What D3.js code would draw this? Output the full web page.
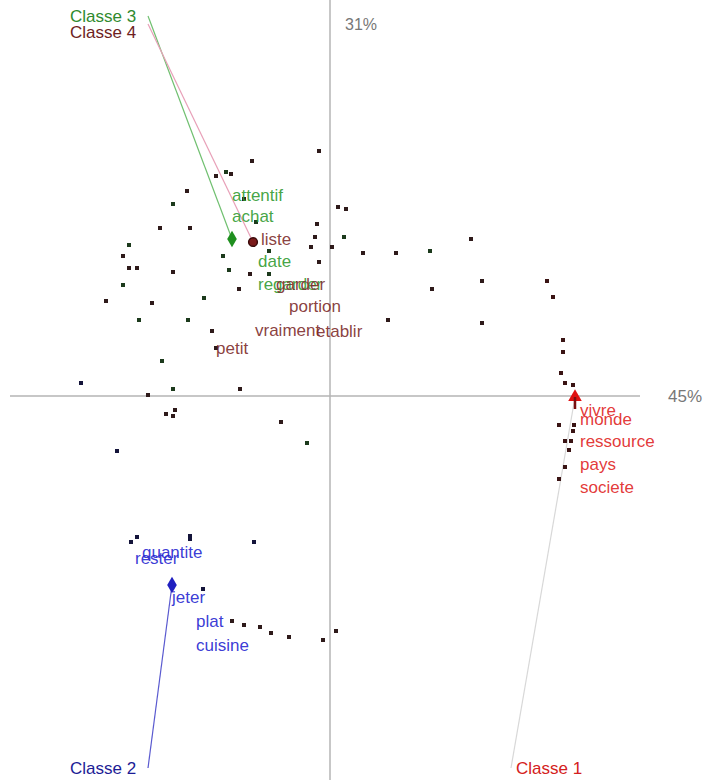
<!DOCTYPE html>
<html>
<head>
<meta charset="utf-8">
<script src="https://cdn.jsdelivr.net/npm/d3@7"></script>
<style>
  body { margin: 0; background: #fff; }
  text { font-family: "Liberation Sans", Arial, sans-serif; }
</style>
</head>
<body>
<div id="chart"></div>
<script>
// factor coordinates (axis 1 = 45%, axis 2 = 31%)
var axisLabels = ['45%', '31%'];

var classes = ['Classe 1', 'Classe 2', 'Classe 3', 'Classe 4'];
var classColors = ['#d42020', '#1c1c96', '#2f8a2f', '#6e1e1e'];
var wordColors = ['#e02222', '#2424d0', '#2f9a2f', '#7c2a2a'];
var lineColors = ['#d8d8d8', '#5a5ad0', '#70c070', '#e8a0b8'];
var dotColors = ['#3a1414', '#14143a', '#1c3a1c', '#2e1a1a'];

// class centroids [x, y]
var centroids = [[1.225, -0.005], [-0.79, -0.945], [-0.49, 0.785], [-0.385, 0.77]];
// where each class label sits [x, y]
var labelPos = [[0.93, -1.89], [-1.3, -1.89], [-1.3, 1.87], [-1.3, 1.79]];

// points [x, y, class]
var points = [
  [-0.055, 1.225, 3], [-0.39, 1.175, 3], [-0.57, 1.10, 3], [-0.52, 1.12, 2], [-0.495, 1.11, 3],
  [-0.715, 1.025, 3], [-0.785, 0.96, 2], [-0.43, 0.985, 3], [0.04, 0.945, 3], [0.08, 0.935, 3],
  [-0.85, 0.84, 3], [-0.70, 0.84, 3], [-0.37, 0.87, 2], [-0.065, 0.86, 3], [-1.005, 0.755, 2],
  [-0.075, 0.795, 3], [0.07, 0.795, 2], [-0.305, 0.725, 2], [-0.095, 0.745, 3], [0.01, 0.745, 3],
  [-1.035, 0.70, 3], [-0.535, 0.70, 2], [-0.055, 0.67, 3], [-1.005, 0.64, 3], [-0.965, 0.64, 3],
  [-0.785, 0.62, 3], [-0.505, 0.63, 2], [-0.40, 0.61, 3], [-0.305, 0.61, 2], [-1.035, 0.555, 2],
  [-0.455, 0.535, 3], [-1.12, 0.475, 3], [-0.89, 0.465, 3], [-0.63, 0.49, 2], [-0.955, 0.38, 2],
  [-0.71, 0.38, 2], [-0.59, 0.325, 3], [-0.84, 0.175, 2], [-1.245, 0.065, 1], [-0.785, 0.035, 2],
  [-0.45, 0.035, 3], [-0.91, 0.005, 3], [-0.82, -0.09, 3], [-0.775, -0.07, 3], [-0.785, -0.10, 3],
  [-0.245, -0.13, 3], [-0.115, -0.235, 2], [-1.065, -0.275, 1], [0.165, 0.715, 3], [0.33, 0.715, 3],
  [0.50, 0.725, 2], [0.705, 0.785, 3], [0.76, 0.575, 3], [0.51, 0.535, 3], [0.29, 0.38, 3],
  [0.76, 0.365, 3], [-0.57, 0.24, 3],
  [1.085, 0.575, 0], [1.115, 0.495, 0], [1.165, 0.28, 0], [1.165, 0.22, 0], [1.155, 0.115, 0],
  [1.175, 0.065, 0], [1.215, 0.055, 0], [1.145, -0.145, 0], [1.22, -0.145, 0], [1.215, -0.175, 0],
  [1.175, -0.225, 0], [1.205, -0.225, 0], [1.195, -0.27, 0], [1.175, -0.355, 0], [1.145, -0.415, 0],
  [-0.965, -0.705, 1], [-0.995, -0.73, 1], [-0.70, -0.70, 1], [-0.70, -0.715, 1], [-0.38, -0.73, 1],
  [-0.635, -0.965, 1],
  [-0.49, -1.125, 3], [-0.43, -1.145, 3], [-0.35, -1.155, 3], [-0.295, -1.185, 3], [-0.205, -1.205, 3],
  [-0.035, -1.22, 3], [0.03, -1.175, 3]
];

// words [label, x, y, class]
var words = [
  ['vivre', 1.25, -0.07, 0], ['monde', 1.25, -0.115, 0], ['ressource', 1.25, -0.225, 0],
  ['pays', 1.25, -0.34, 0], ['societe', 1.25, -0.455, 0],
  ['quantite', -0.94, -0.78, 1], ['rester', -0.975, -0.81, 1], ['jeter', -0.79, -1.005, 1],
  ['plat', -0.67, -1.125, 1], ['cuisine', -0.67, -1.245, 1],
  ['attentif', -0.49, 1.005, 2], ['achat', -0.49, 0.90, 2], ['date', -0.36, 0.675, 2],
  ['regarder', -0.36, 0.56, 2],
  ['liste', -0.345, 0.785, 3], ['garder', -0.27, 0.56, 3], ['portion', -0.205, 0.45, 3],
  ['vraiment', -0.375, 0.33, 3], ['etablir', -0.07, 0.325, 3], ['petit', -0.57, 0.24, 3]
];

var width = 711, height = 780;

var x = d3.scaleLinear().domain([-1.6, 1.6]).range([10, 650]);
var y = d3.scaleLinear().domain([-1.92, 1.92]).range([780, 12]);

var svg = d3.select('#chart').append('svg')
  .attr('width', width)
  .attr('height', height);

// axes through the origin
svg.append('line')
  .attr('x1', x(-1.6)).attr('x2', x(1.55))
  .attr('y1', y(0)).attr('y2', y(0))
  .attr('stroke', '#b4b4b4').attr('stroke-width', 1.5);
svg.append('line')
  .attr('x1', x(0)).attr('x2', x(0))
  .attr('y1', y(1.98)).attr('y2', y(-1.92))
  .attr('stroke', '#b4b4b4').attr('stroke-width', 1.5);

svg.append('text')
  .attr('x', x(1.69)).attr('y', y(0) + 6)
  .attr('font-size', 17).attr('fill', '#777')
  .text(axisLabels[0]);
svg.append('text')
  .attr('x', x(0.075)).attr('y', y(1.83))
  .attr('font-size', 16).attr('fill', '#777')
  .text(axisLabels[1]);

// lines from class labels to centroids
svg.selectAll('line.link')
  .data(classes)
  .enter()
  .append('line')
  .attr('class', 'link')
  .attr('x1', function(d, i) { return x(labelPos[i][0]) + (i == 0 ? -5 : 78); })
  .attr('y1', function(d, i) { return y(labelPos[i][1]) + (i < 3 ? -6 : -14); })
  .attr('x2', function(d, i) { return x(centroids[i][0]); })
  .attr('y2', function(d, i) { return y(centroids[i][1]); })
  .attr('stroke', function(d, i) { return lineColors[i]; })
  .attr('stroke-width', 1.2);

svg.selectAll('text.classe')
  .data(classes)
  .enter()
  .append('text')
  .attr('class', 'classe')
  .attr('x', function(d, i) { return x(labelPos[i][0]); })
  .attr('y', function(d, i) { return y(labelPos[i][1]); })
  .attr('font-size', 17)
  .attr('fill', function(d, i) { return classColors[i]; })
  .text(function(d) { return d; });

// points
svg.selectAll('rect.pt')
  .data(points)
  .enter()
  .append('rect')
  .attr('class', 'pt')
  .attr('x', function(d) { return x(d[0]) - 2; })
  .attr('y', function(d) { return y(d[1]) - 2; })
  .attr('width', 4)
  .attr('height', 4)
  .attr('fill', function(d) { return dotColors[d[2]]; });

// words
svg.selectAll('text.word')
  .data(words)
  .enter()
  .append('text')
  .attr('class', 'word')
  .attr('x', function(d) { return x(d[1]); })
  .attr('y', function(d) { return y(d[2]) + 6; })
  .attr('font-size', 17)
  .attr('fill', function(d) { return wordColors[d[3]]; })
  .attr('fill-opacity', 0.9)
  .text(function(d) { return d[0]; });

// centroids
var shapes = [d3.symbolTriangle, d3.symbolDiamond, d3.symbolDiamond, d3.symbolCircle];
var centroidFill = ['#e01010', '#2020c0', '#1f8f1f', '#7a1a1a'];
svg.selectAll('path.centroid')
  .data(centroids)
  .enter()
  .append('path')
  .attr('class', 'centroid')
  .attr('transform', function(d) { return 'translate(' + x(d[0]) + ',' + y(d[1]) + ')'; })
  .attr('d', function(d, i) { return d3.symbol().type(shapes[i]).size(i == 3 ? 60 : 80)(); })
  .attr('fill', function(d, i) { return centroidFill[i]; })
  .attr('stroke', function(d, i) { return i == 3 ? '#3a0a0a' : 'none'; })
  .attr('stroke-width', 1.5);

// stem of the class 1 arrow
svg.append('line')
  .attr('x1', x(centroids[0][0])).attr('x2', x(centroids[0][0]))
  .attr('y1', y(centroids[0][1])).attr('y2', y(centroids[0][1]) + 12)
  .attr('stroke', '#7a1010').attr('stroke-width', 2.5);
</script>
</body>
</html>
